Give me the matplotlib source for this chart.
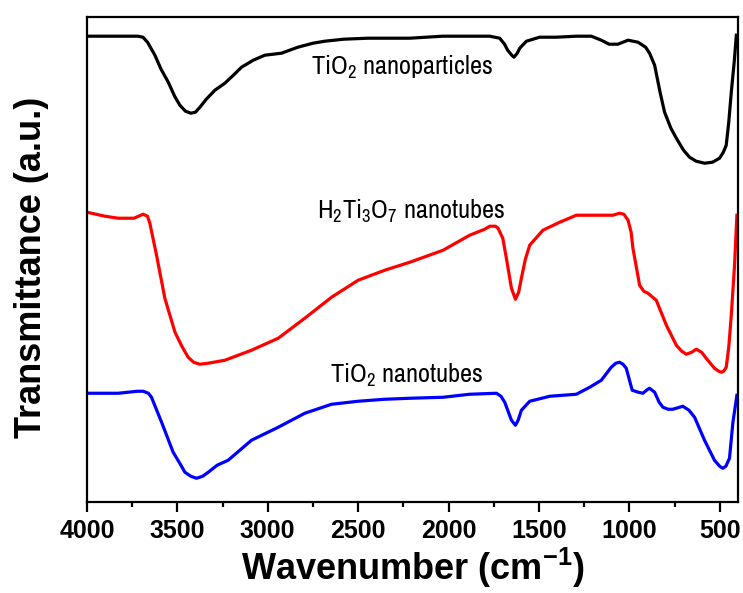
import matplotlib.pyplot as plt
from matplotlib import font_manager

# FTIR spectra (wavenumber in cm-1, transmittance in a.u.)
wn_np = [4000, 3718, 3690, 3665, 3624, 3590, 3550, 3515, 3486, 3455, 3425, 3400, 3375,
         3340, 3292, 3237, 3190, 3145, 3080, 3016, 2924, 2833, 2750, 2684, 2580, 2446,
         2214, 2032, 1772, 1717, 1690, 1673, 1650, 1638, 1620, 1606, 1569, 1496, 1403,
         1293, 1210, 1155, 1112, 1063, 1007, 952, 910, 888, 860, 830, 805, 770, 740,
         700, 667, 630, 584, 540, 501, 480, 464, 450, 436, 420, 408]
t_np = [466, 466, 465, 460, 447, 433, 420, 406, 397, 391, 389, 390, 395,
        403, 412, 419, 427, 435, 442, 447, 449, 455, 459, 461, 463, 464,
        464, 466, 466, 464, 458, 452, 447, 445, 449, 454, 461, 465, 465,
        466, 466, 462, 458, 458, 462, 460, 455, 449, 437, 410, 390, 374, 364,
        352, 345, 341, 339, 340, 344, 350, 357, 380, 410, 440, 467]

wn_h2 = [4000, 3900, 3827, 3740, 3689, 3665, 3652, 3615, 3569, 3513, 3475, 3440, 3410,
         3375, 3330, 3237, 3090, 2942, 2795, 2647, 2500, 2353, 2214, 2030, 1883, 1800,
         1772, 1740, 1726, 1700, 1680, 1652, 1630, 1612, 1597, 1575, 1551, 1478, 1385,
         1293, 1182, 1091, 1054, 1030, 1007, 990, 980, 943, 920, 897, 851, 795, 740,
         710, 685, 655, 630, 600, 575, 529, 505, 492, 478, 464, 450, 436, 418, 405]
t_h2 = [290, 286, 284, 284, 288, 286, 279, 247, 204, 170, 156, 145, 140,
        138, 139, 142, 152, 164, 184, 205, 222, 232, 240, 252, 267, 273,
        276, 276, 274, 264, 244, 214, 203, 210, 224, 243, 257, 272, 280,
        287, 287, 287, 289, 288, 282, 270, 254, 217, 211, 209, 202, 177, 157,
        151, 148, 150, 153, 150, 144, 134, 131, 130, 131, 135, 155, 187, 237, 287]

wn_nt = [4000, 3827, 3720, 3689, 3660, 3643, 3587, 3523, 3480, 3458, 3425, 3394, 3360,
         3329, 3280, 3219, 3090, 2942, 2795, 2647, 2500, 2353, 2214, 2030, 1883, 1735,
         1710, 1689, 1652, 1630, 1615, 1597, 1551, 1440, 1293, 1219, 1155, 1100, 1075,
         1054, 1035, 1017, 984, 950, 925, 905, 888, 860, 835, 814, 785, 759, 704, 670,
         639, 584, 529, 500, 483, 466, 446, 427, 405]
t_nt = [109, 109, 111, 111, 109, 105, 80, 50, 37, 30, 26, 24, 26,
        30, 37, 42, 62, 75, 89, 98, 101, 103, 104, 105, 108, 109,
        106, 100, 82, 77, 82, 92, 101, 106, 108, 115, 122, 135, 139,
        140, 138, 134, 112, 110, 109, 112, 114, 110, 100, 95, 93, 93, 96, 92,
        85, 62, 42, 36, 34, 36, 44, 80, 107]

names = ['TiO$_2$ nanoparticles', 'H$_2$Ti$_3$O$_7$ nanotubes', 'TiO$_2$ nanotubes']

# a narrow sans for the curve labels if one is installed
installed = sorted({f.name for f in font_manager.fontManager.ttflist})
narrow_list = [n for n in installed if 'Narrow' in n or 'Condensed' in n]
narrow = narrow_list[0] if narrow_list else 'Liberation Sans'

plt.rcParams['font.family'] = ['Liberation Sans', 'DejaVu Sans']
plt.rcParams['mathtext.fontset'] = 'custom'
plt.rcParams['mathtext.rm'] = narrow
plt.rcParams['mathtext.bf'] = 'Liberation Sans:bold'

fig = plt.figure(figsize=(7.43, 5.93), dpi=100)
ax = fig.add_axes([0.117, 0.153, 0.876, 0.818])

ax.plot(wn_np, t_np, color='black', lw=2.3)
ax.plot(wn_h2, t_h2, color='#ff0000', lw=2.3)
ax.plot(wn_nt, t_nt, color='#0000ff', lw=2.3)

# curve labels
lab_size = 19 if narrow_list else 16
ax.text(2259, 428, names[0], fontsize=lab_size, family=narrow, ha='center', va='baseline')
ax.text(2209, 284, names[1], fontsize=lab_size, family=narrow, ha='center', va='baseline')
ax.text(2231, 120, names[2], fontsize=lab_size, family=narrow, ha='center', va='baseline')

ax.set_xlim(4000, 400)
ax.set_ylim(0, 485)
ax.set_xticks([4000, 3500, 3000, 2500, 2000, 1500, 1000, 500])
ax.set_xticks(range(3750, 400, -500), minor=True)
ax.set_yticks([])
ax.tick_params(axis='x', which='major', direction='out', length=7, width=1.6,
               labelsize=18, pad=5)
ax.tick_params(axis='x', which='minor', direction='out', length=3.5, width=1.6)
for lab in ax.get_xticklabels():
    lab.set_fontweight('bold')
for s in ax.spines.values():
    s.set_linewidth(1.6)

ax.set_xlabel('Wavenumber (cm$^{\\mathbf{-1}}$)', fontsize=26, fontweight='bold', labelpad=2)
ax.set_ylabel('Transmittance (a.u.)', fontsize=26, fontweight='bold')
ax.yaxis.set_label_coords(-0.058, 0.485)

fig.savefig('out.png', dpi=100)
